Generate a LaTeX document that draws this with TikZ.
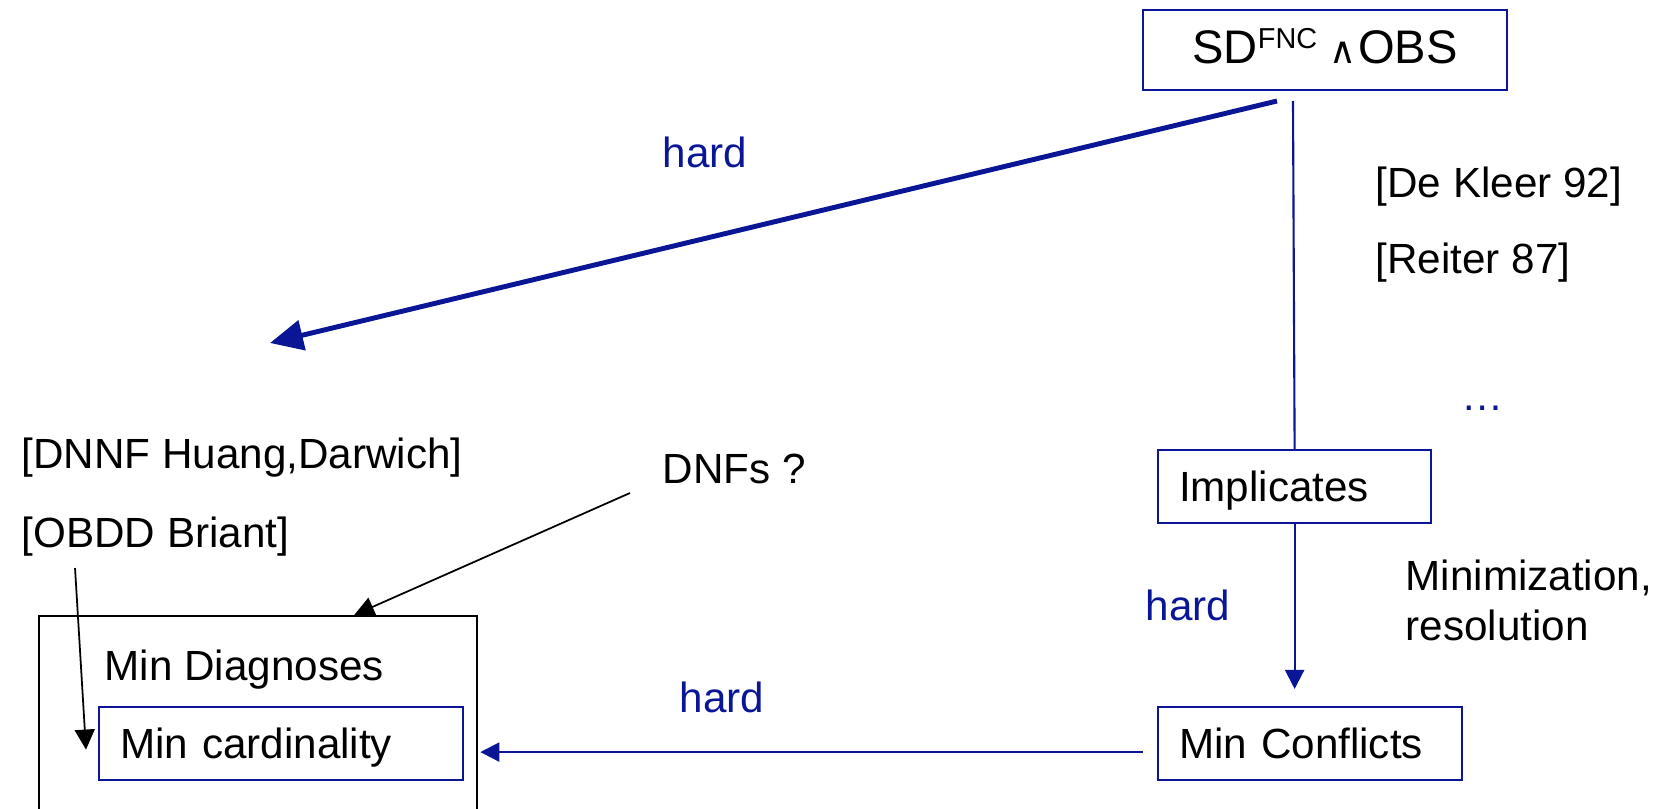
\documentclass[tikz,border=0pt]{standalone}
\usepackage{fontspec}
\setmainfont{Liberation Sans}
\newfontfamily\symfont{DejaVu Sans}
\usetikzlibrary{arrows.meta}
\definecolor{navy}{RGB}{10,22,150}
\tikzset{
    txt/.style={anchor=base west, inner sep=0pt, font=\fontsize{12}{14}\selectfont}, % 普通文字
    hard/.style={txt, text=navy}, % 蓝色的 hard 标注
    bluebox/.style={draw=navy, line width=0.6pt, anchor=north west, inner ysep=0pt, inner xsep=0.21cm,
        align=left, text height=0.51cm, text depth=0.22cm, font=\fontsize{12}{14}\selectfont}, % 蓝色方框
    bluearrow/.style={navy, line width=0.6pt, -{Triangle[length=0.19cm, width=0.19cm]}}, % 细蓝箭头
    thickarrow/.style={navy, line width=1.4pt, -{Triangle[length=0.33cm, width=0.3cm]}}, % 粗蓝箭头
    blackarrow/.style={black, line width=0.5pt, -{Triangle[length=0.2cm, width=0.2cm]}} % 细黑箭头
}

\begin{document}
\begin{tikzpicture}[x=0.01cm, y=-0.01cm]
    \clip (0,0) rectangle (1659,809);

    % 右边一列方框
    \node[bluebox, align=center, inner xsep=0pt, text width=3.64cm, text height=0.53cm, text depth=0.27cm,
        font=\fontsize{13.4}{15}\selectfont] (sd) at (1142,9)
        {SD\raisebox{0.15cm}{\fontsize{8.2}{9}\selectfont FNC}\hspace{0.12cm}{\symfont\fontsize{10.5}{11}\selectfont ∧}\hspace{0.02cm}OBS};
    \node[bluebox, text width=2.31cm] (impl) at (1157,449) {Implicates};
    \node[bluebox, text width=2.62cm] (conf) at (1157,706) {Min Conflicts};

    % 左下的大框
    \node[draw, line width=0.6pt, anchor=north west, inner sep=0pt, minimum width=4.38cm, minimum height=2.3cm] (diag) at (38,615) {};
    \node[txt] (diagtxt) at (104,680) {Min Diagnoses};
    \node[bluebox, text width=3.22cm] (card) at (98,706) {Min cardinality};

    \node[txt] (dnnf) at (21,468) {[DNNF Huang,Darwich]};
    \node[txt] (obdd) at (21,547) {[OBDD Briant]};
    \node[txt] (dnf) at (662,483) {DNFs ?};
    \node[txt] (kleer) at (1375,197) {[De Kleer 92]};
    \node[txt] (reiter) at (1375,273) {[Reiter 87]};
    \node[txt, text=navy] (dots) at (1461,410) {…};
    \node[txt] (minim) at (1405,590) {Minimization,};
    \node[txt] (resol) at (1405,640) {resolution};
    \node[hard] (hardtop) at (662,167) {hard};
    \node[hard] (hardmid) at (1145,620) {hard};
    \node[hard] (hardlow) at (679,712) {hard};

    % 箭头
    \coordinate (hstart) at (1277,101);
    \coordinate (hend) at (270,343);
    \draw[thickarrow] (hstart) -- (hend);
    \coordinate (vtop) at (1293,101);
    \draw[navy, line width=0.6pt] (vtop) -- (impl.north);
    \draw[bluearrow, shorten >=0.17cm] (impl.south) -- (impl.south |- conf.north);
    \draw[bluearrow, shorten >=0.16cm] ([xshift=-0.14cm, yshift=-0.085cm]conf.west) -- ([yshift=-0.085cm]card.east);
    \draw[blackarrow] ([xshift=-0.32cm, yshift=-0.1cm]dnf.base west) -- ([xshift=0.96cm]diag.north);
    \draw[blackarrow] ([xshift=0.54cm, yshift=-0.21cm]obdd.base west) -- ([xshift=-0.12cm, yshift=-0.06cm]card.west);
\end{tikzpicture}
\end{document}
